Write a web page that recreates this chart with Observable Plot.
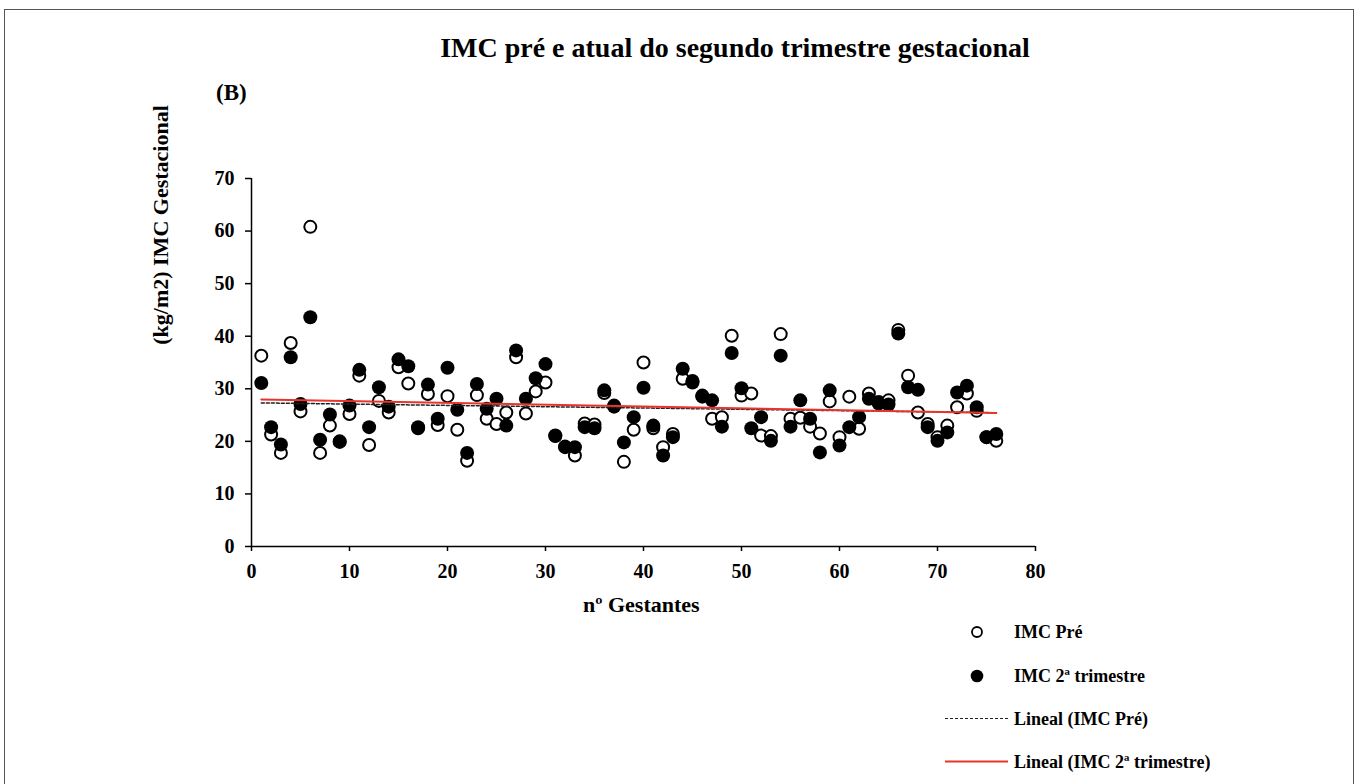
<!DOCTYPE html>
<html>
<head>
<meta charset="utf-8">
<script src="https://cdn.jsdelivr.net/npm/d3@7"></script>
<script src="https://cdn.jsdelivr.net/npm/@observablehq/plot@0.6"></script>
<style>
  html, body { margin: 0; padding: 0; background: #fff; }
  #wrap { position: relative; width: 1360px; height: 784px; overflow: hidden; font-family: "Liberation Serif", "Times New Roman", serif; font-weight: bold; color: #000; }
  #frame { position: absolute; left: 4px; top: 9px; width: 1350px; height: 800px; border: 1px solid #555; box-sizing: border-box; }
  .t { position: absolute; white-space: nowrap; line-height: 1; }
  #chart { position: absolute; left: 0; top: 0; }
  #legend { position: absolute; left: 0; top: 0; }
</style>
</head>
<body>
<div id="wrap">
  <div id="frame"></div>
  <div id="chart"></div>
  <div class="t" id="title" style="left:0;width:1470px;text-align:center;top:34px;font-size:28px;">IMC pré e atual do segundo trimestre gestacional</div>
  <div class="t" style="left:216px;top:81px;font-size:23px;">(B)</div>
  <div class="t" style="left:172px;top:225px;font-size:22px;transform:translate(-50%,-100%) rotate(-90deg);transform-origin:50% 100%;">(kg/m2) IMC Gestacional</div>
  <div class="t" style="left:583px;top:594px;font-size:22px;">nº Gestantes</div>
  <svg id="legend" width="1360" height="784"></svg>
</div>
<script>
// Gestante number (x)
const gestante = [1,2,3,4,5,6,7,8,9,10,11,12,13,14,15,16,17,18,19,20,21,22,23,24,25,26,27,28,29,30,31,32,33,34,35,36,37,38,39,40,41,42,43,44,45,46,47,48,49,50,51,52,53,54,55,56,57,58,59,60,61,62,63,64,65,66,67,68,69,70,71,72,73,74,75,76];
// IMC Pré (open circles)
const imcPre = [36.3,21.3,17.8,38.7,25.7,60.8,17.8,23.0,20.0,25.2,32.5,19.3,27.7,25.5,34.1,31.0,22.5,29.0,23.1,28.6,22.2,16.3,28.8,24.3,23.3,25.5,36.0,25.3,29.5,31.2,21.0,19.0,17.3,23.4,23.2,29.2,26.8,16.1,22.2,35.0,22.5,18.9,21.4,31.9,31.5,28.5,24.3,24.6,40.1,28.7,29.1,21.1,21.0,40.4,24.3,24.5,22.8,21.5,27.6,20.8,28.5,22.4,29.1,27.5,27.8,41.2,32.5,25.5,23.3,20.8,23.0,26.5,29.1,25.8,20.8,20.1];
// IMC 2º trimestre (filled circles)
const imcSeg = [31.1,22.7,19.4,36.0,27.1,43.6,20.3,25.1,19.9,26.8,33.6,22.7,30.3,26.6,35.6,34.3,22.7,30.8,24.3,34.0,26.0,17.8,30.9,26.2,28.1,23.0,37.3,28.1,32.0,34.7,21.1,18.9,18.9,22.7,22.5,29.7,26.6,19.8,24.6,30.2,23.0,17.3,20.8,33.8,31.2,28.7,27.8,22.8,36.8,30.1,22.5,24.6,20.1,36.3,22.8,27.8,24.3,17.9,29.7,19.2,22.7,24.6,28.1,27.2,27.0,40.5,30.3,29.8,22.7,20.1,21.7,29.3,30.6,26.5,20.8,21.4];
const xTicks = [0,10,20,30,40,50,60,70,80];
const yTicks = [0,10,20,30,40,50,60,70];
const legendLabels = ["IMC Pré", "IMC 2ª trimestre", "Lineal (IMC Pré)", "Lineal (IMC 2ª trimestre)"];

const pre = gestante.map((g, i) => ({g, v: imcPre[i]}));
const seg = gestante.map((g, i) => ({g, v: imcSeg[i]}));

const chart = Plot.plot({
  width: 1360,
  height: 784,
  marginLeft: 251,
  marginRight: 325,
  marginTop: 178,
  marginBottom: 238,
  style: { fontFamily: "'Liberation Serif', 'Times New Roman', serif", fontWeight: "bold", fontSize: "20px", color: "#000", background: "transparent" },
  x: { domain: [0, 80] },
  y: { domain: [0, 70] },
  marks: [
    Plot.dot(pre, { x: "g", y: "v", r: 6, fill: "white", stroke: "black", strokeWidth: 2 }),
    Plot.dot(seg, { x: "g", y: "v", r: 7, fill: "black", stroke: "none" }),
    Plot.linearRegressionY(pre, { x: "g", y: "v", ci: 0, stroke: "#222", strokeWidth: 1.5, strokeDasharray: "3,2" }),
    Plot.linearRegressionY(seg, { x: "g", y: "v", ci: 0, stroke: "#e8342c", strokeWidth: 2 }),
    Plot.axisX({ ticks: xTicks, tickSize: 5, tickPadding: 12, tickFormat: d => d, label: null, stroke: "black", strokeWidth: 1.5, fontSize: 20 }),
    Plot.axisY({ ticks: yTicks, tickSize: 6, tickPadding: 11, tickFormat: d => d, label: null, stroke: "black", strokeWidth: 1.5, fontSize: 20 }),
    Plot.ruleX([0], { stroke: "black", strokeWidth: 1.5 }),
    Plot.ruleY([0], { stroke: "black", strokeWidth: 1.5 })
  ]
});
document.getElementById("chart").appendChild(chart);

// Legend
const lg = d3.select("#legend");
const lx = 1014;
const rows = [638, 682, 725, 768];
lg.append("circle").attr("cx", 977).attr("cy", 632).attr("r", 5).attr("fill", "white").attr("stroke", "black").attr("stroke-width", 1.8);
lg.append("circle").attr("cx", 977).attr("cy", 676).attr("r", 6.3).attr("fill", "black");
lg.append("line").attr("x1", 945).attr("x2", 1008).attr("y1", 718.5).attr("y2", 718.5).attr("stroke", "#222").attr("stroke-width", 1.2).attr("stroke-dasharray", "3,2");
lg.append("line").attr("x1", 945).attr("x2", 1008).attr("y1", 761.5).attr("y2", 761.5).attr("stroke", "#e8342c").attr("stroke-width", 1.8);
legendLabels.forEach((t, i) => {
  lg.append("text").attr("x", lx).attr("y", rows[i])
    .attr("font-family", "'Liberation Serif', 'Times New Roman', serif")
    .attr("font-weight", "bold").attr("font-size", 18).attr("fill", "black").text(t);
});
</script>
</body>
</html>
